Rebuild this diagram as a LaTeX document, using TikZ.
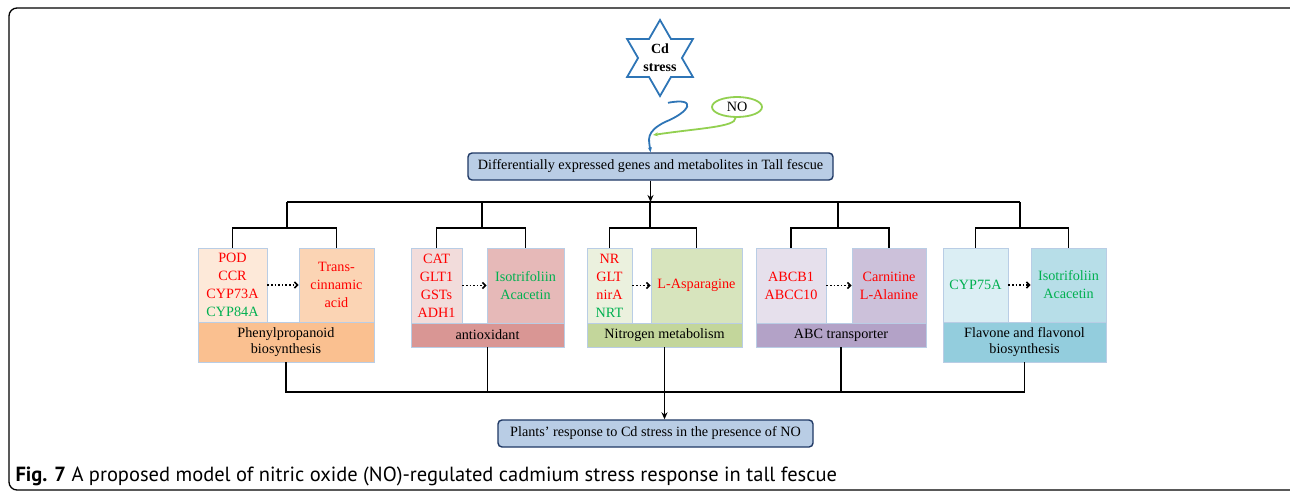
\documentclass[tikz,border=0pt]{standalone}
\usepackage{fontspec}
\setmainfont{Liberation Serif}
\newfontfamily\capfont{PT Sans}
\usetikzlibrary{shapes.geometric,arrows.meta}

\definecolor{boxline}{HTML}{B9CDE5}
\definecolor{mainfill}{HTML}{B9CDE5}
\definecolor{mainline}{HTML}{1F3864}
\definecolor{starblue}{HTML}{2E75B6}
\definecolor{nogreen}{HTML}{92D050}
\definecolor{tgreen}{HTML}{00B050}
\definecolor{g1a}{HTML}{FDE9D9}
\definecolor{g1b}{HTML}{FBD4B4}
\definecolor{g1c}{HTML}{FAC090}
\definecolor{g2a}{HTML}{F2DCDB}
\definecolor{g2b}{HTML}{E6B9B8}
\definecolor{g2c}{HTML}{D99694}
\definecolor{g3a}{HTML}{EBF1DE}
\definecolor{g3b}{HTML}{D7E4BD}
\definecolor{g3c}{HTML}{C3D69B}
\definecolor{g4a}{HTML}{E6E0EC}
\definecolor{g4b}{HTML}{CCC1DA}
\definecolor{g4c}{HTML}{B3A2C7}
\definecolor{g5a}{HTML}{DBEEF4}
\definecolor{g5b}{HTML}{B7DEE8}
\definecolor{g5c}{HTML}{93CDDD}
\newcommand{\gn}[1]{\textcolor{tgreen}{#1}}

\begin{document}
\begin{tikzpicture}[x=1pt, y=-1pt,
    every node/.style={font=\fontsize{14.2}{18}\selectfont},
    gene/.style={draw=boxline, line width=0.8, inner sep=0, align=center, text=red},
    lab/.style={draw=boxline, line width=0.8, inner sep=0, align=center, font=\fontsize{14.2}{16}\selectfont},
    mainbox/.style={draw=mainline, fill=mainfill, rounded corners=4, line width=1.4, inner sep=0, minimum height=27},
    link/.style={line width=1.7},
    arr/.style={link, -{Stealth[length=7, width=6]}},
    dotarr/.style={line width=1.6, dotted, -{Straight Barb[length=3, width=6]}}]
    \useasboundingbox (0,0) rectangle (1290,492);
    \draw[line width=1.3, rounded corners=8] (9,490) rectangle (1320,8);

    \node[star, star points=6, star point ratio=1.732, draw=starblue, line width=1.8, minimum size=76, inner sep=0] (cd) at (660,58) {};
    \node[align=center, font=\bfseries\fontsize{14}{18}\selectfont] (cdtxt) at (cd) {Cd\\stress};
    \node[ellipse, draw=nogreen, line width=1.8, minimum width=50, minimum height=20, inner sep=0] (no) at (737,107) {NO};
    \node[mainbox, minimum width=365] (deg) at (650.5,166.5) {Differentially expressed genes and metabolites in Tall fescue};
    \coordinate (meet) at (653,135);

    \draw[line width=1.8, starblue, -{Stealth[length=5, width=4]}] ([xshift=8pt, yshift=-5pt]cd.south) .. controls (698,97) and (690,112) .. (665,122) .. controls (645,132) and (649,140) .. (deg.north);
    \draw[line width=1.8, nogreen, -{Stealth[length=5, width=4]}] (no.262) .. controls (736,127) and (700,128) .. (meet);

    % pathway groups
    \node[gene, fill=g1a, minimum width=69, minimum height=74] (a1) at (232.5,285) {POD\\CCR\\CYP73A\\\gn{CYP84A}};
    \node[gene, fill=g1b, minimum width=75, minimum height=74] (b1) at (336.5,285) {Trans-\\cinnamic\\acid};
    \node[lab, fill=g1c, minimum width=176, minimum height=40] (c1) at (286,342) {Phenylpropanoid\\biosynthesis};

    \node[gene, fill=g2a, minimum width=51, minimum height=75] (a2) at (436.5,285.5) {CAT\\GLT1\\GSTs\\ADH1};
    \node[gene, fill=g2b, minimum width=77, minimum height=75] (b2) at (525.5,285.5) {\gn{Isotrifoliin}\\\gn{Acacetin}};
    \node[lab, fill=g2c, minimum width=153, minimum height=24] (c2) at (487.5,335) {antioxidant};

    \node[gene, fill=g3a, minimum width=45, minimum height=75] (a3) at (609.5,285.5) {NR\\GLT\\nirA\\\gn{NRT}};
    \node[gene, fill=g3b, minimum width=91, minimum height=75] (b3) at (696.5,285.5) {L-Asparagine};
    \node[lab, fill=g3c, minimum width=155, minimum height=24] (c3) at (664.5,335) {Nitrogen metabolism};

    \node[gene, fill=g4a, minimum width=70, minimum height=75] (a4) at (791,285.5) {ABCB1\\ABCC10};
    \node[gene, fill=g4b, minimum width=74, minimum height=75] (b4) at (889,285.5) {Carnitine\\L-Alanine};
    \node[lab, fill=g4c, minimum width=170, minimum height=24] (c4) at (841,335) {ABC transporter};

    \node[gene, fill=g5a, minimum width=65, minimum height=74] (a5) at (975.5,285) {\gn{CYP75A}};
    \node[gene, fill=g5b, minimum width=75, minimum height=74] (b5) at (1068.5,285) {\gn{Isotrifoliin}\\\gn{Acacetin}};
    \node[lab, fill=g5c, minimum width=163, minimum height=40] (c5) at (1024.5,342) {Flavone and flavonol\\biosynthesis};

    \node[mainbox, minimum width=315] (plants) at (655.5,433.5) {Plants’ response to Cd stress in the presence of NO};

    % tree above the groups
    \coordinate (t1) at (287,202);
    \coordinate (t2) at (482,202);
    \coordinate (t3) at (650,202);
    \coordinate (t4) at (838,202);
    \coordinate (t5) at (1020,202);
    \draw[arr] (deg.south) -- (deg.south |- t3);
    \draw[link] (t1) -- (t5);
    \draw[link] (a1.north) |- (t1 |- 0,228) -| (b1.north);
    \draw[link] (a2.north) |- (t2 |- 0,228) -| (b2.north);
    \draw[link] (a3.north) |- (t3 |- 0,228) -| (b3.north);
    \draw[link] (a4.north) |- (t4 |- 0,228) -| (b4.north);
    \draw[link] (a5.north) |- (t5 |- 0,228) -| (b5.north);
    \draw[link] (t1) -- (t1 |- 0,228);
    \draw[link] (t2) -- (t2 |- 0,228);
    \draw[link] (t3) -- (t3 |- 0,228);
    \draw[link] (t4) -- (t4 |- 0,228);
    \draw[link] (t5) -- (t5 |- 0,228);

    \draw[dotarr] (a1) -- (b1);
    \draw[dotarr] (a2) -- (b2);
    \draw[dotarr] (a3) -- (b3);
    \draw[dotarr] (a4) -- (b4);
    \draw[dotarr] (a5) -- (b5);

    % tree below the groups
    \coordinate (bot) at (664.5,392);
    \draw[link] (c1.south) |- (bot) -| (c5.south);
    \draw[link] (c2.south) -- (c2.south |- bot);
    \draw[link] (c4.south) -- (c4.south |- bot);
    \draw[arr] (c3.south) -- (c3.south |- plants.north);

    \node[anchor=base west, font=\capfont\fontsize{20.5}{24}\selectfont] (cap) at (12,481) {\textbf{Fig. 7} A proposed model of nitric oxide (NO)-regulated cadmium stress response in tall fescue};
\end{tikzpicture}
\end{document}
